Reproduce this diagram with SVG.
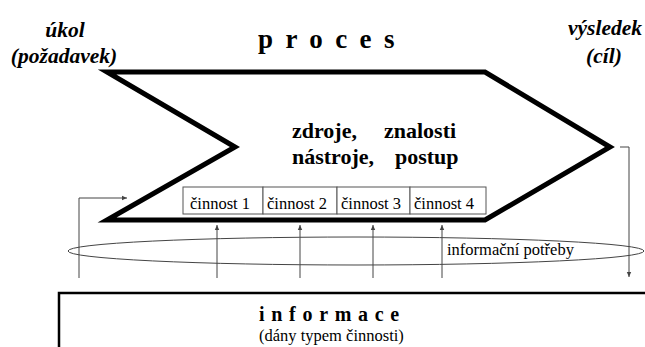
<svg xmlns="http://www.w3.org/2000/svg" width="645" height="347" viewBox="0 0 645 347">
<style>
text{font-family:"Liberation Serif","Times New Roman","DejaVu Serif",serif}
.title{font-weight:bold;fill:#000}
.it{font-weight:bold;font-style:italic;font-size:21.5px;fill:#000;text-anchor:middle}
.sm{font-size:16.5px;fill:#000}
.thin{fill:none;stroke:#444;stroke-width:1}
.box{fill:#fff;stroke:#555;stroke-width:1}
</style>
<defs>
<marker id="ah" markerWidth="6" markerHeight="6" refX="5" refY="3" orient="auto" markerUnits="userSpaceOnUse">
<path d="M0,0.8 L5,3 L0,5.2 Z" fill="#444"/>
</marker>
</defs>
<rect width="645" height="347" fill="#fff"/>
<g id="labels">
<text class="it" x="65" y="37">úkol</text>
<text class="it" x="64" y="63">(požadavek)</text>
<text class="it" x="605" y="35">výsledek</text>
<text class="it" x="604" y="63">(cíl)</text>
<text class="title" x="258" y="48" font-size="27" letter-spacing="12.4">proces</text>
</g>
<g id="process">
<path d="M107,72 L485,72 L610,147 L485,220 L107,220 L235,147 Z" fill="#fff" stroke="#000" stroke-width="5" stroke-linejoin="miter"/>
<text class="title" x="292" y="138" font-size="22">zdroje,</text>
<text class="title" x="384" y="138" font-size="22">znalosti</text>
<text class="title" x="292" y="164" font-size="22">nástroje,</text>
<text class="title" x="395" y="164" font-size="22">postup</text>
</g>
<g id="cinnost1"><rect class="box" x="183" y="187" width="80" height="27"/><text class="sm" x="190" y="209">činnost 1</text></g>
<g id="cinnost2"><rect class="box" x="263" y="187" width="74" height="27"/><text class="sm" x="267" y="209">činnost 2</text></g>
<g id="cinnost3"><rect class="box" x="337" y="187" width="73" height="27"/><text class="sm" x="341" y="209">činnost 3</text></g>
<g id="cinnost4"><rect class="box" x="410" y="187" width="76" height="27"/><text class="sm" x="414" y="209">činnost 4</text></g>
<g id="potreby">
<ellipse cx="356" cy="251" rx="288" ry="14" fill="none" stroke="#444" stroke-width="1"/>
<text class="sm" x="447" y="255">informační potřeby</text>
</g>
<g id="informace">
<rect x="59" y="293" width="600" height="80" fill="#fff" stroke="#000" stroke-width="2.5"/>
<text class="title" x="259" y="321" font-size="20" letter-spacing="6.7">informace</text>
<text class="sm" x="259" y="341" font-size="14">(dány typem činnosti)</text>
</g>
<g id="connectors">
<path class="thin" d="M79,278 L79,198 L127,198" marker-end="url(#ah)"/>
<path class="thin" d="M620,147 L629,147 L629,277" marker-end="url(#ah)"/>
<path class="thin" d="M217,278 L217,225" marker-end="url(#ah)"/>
<path class="thin" d="M300,278 L300,225" marker-end="url(#ah)"/>
<path class="thin" d="M373,278 L373,225" marker-end="url(#ah)"/>
<path class="thin" d="M442,278 L442,225" marker-end="url(#ah)"/>
</g>
</svg>
